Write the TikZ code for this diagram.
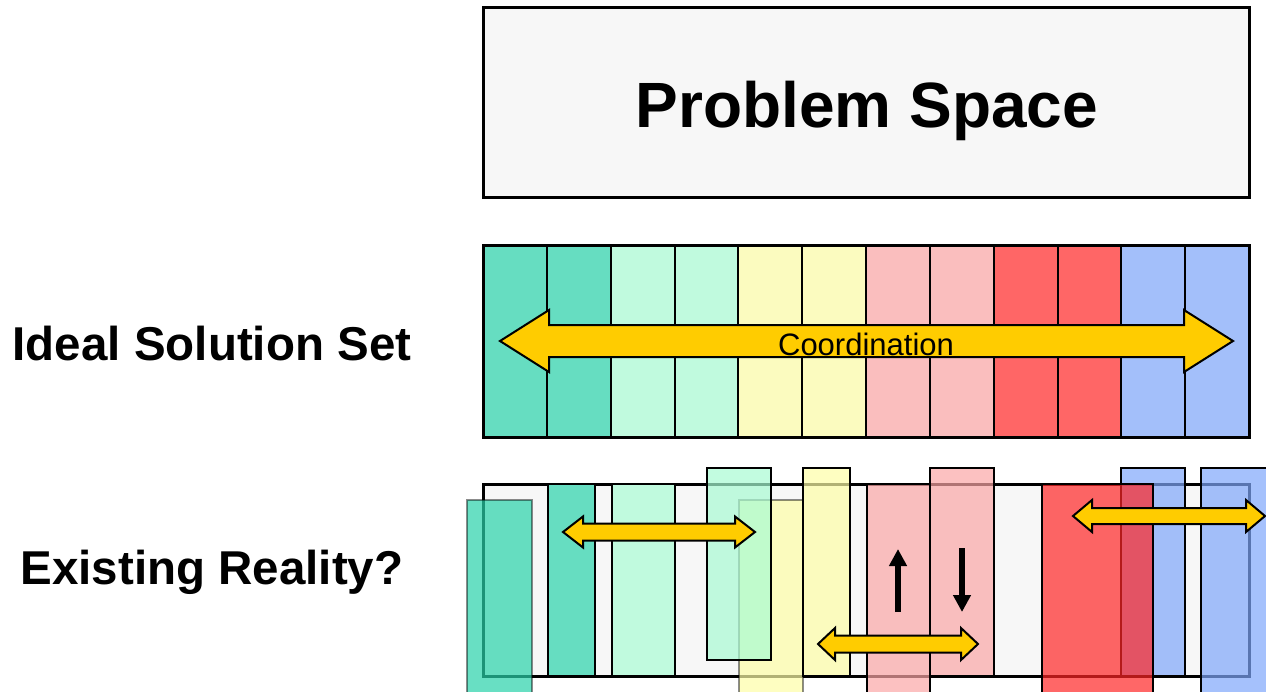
\documentclass[tikz,border=0pt]{standalone}
\usepackage{fontspec}
\setmainfont{Liberation Sans}
\usetikzlibrary{arrows.meta}

% flat colours of the cells
\definecolor{panel}{HTML}{F7F7F7}
\definecolor{cteal}{HTML}{66DDC1}
\definecolor{cmint}{HTML}{C0FADE}
\definecolor{cyel}{HTML}{FBFBBF}
\definecolor{cpink}{HTML}{FABEBE}
\definecolor{cred}{HTML}{FF6666}
\definecolor{cblue}{HTML}{A3BFFA}
\definecolor{gold}{HTML}{FFCC00}
% stronger tints used with opacity for the overlapping bars
\definecolor{tteal}{HTML}{28D2AA}
\definecolor{tmint}{HTML}{A8FBD3}
\definecolor{tyel}{HTML}{FDFDA7}
\definecolor{tpink}{HTML}{FBA6A6}
\definecolor{tred}{HTML}{FF2626}
\definecolor{tblue}{HTML}{7FA7FB}

\tikzset{
  frame/.style={draw=black, line width=3pt, fill=panel},
  cell/.style={draw=black, line width=2pt},
  ghost/.style={draw=black, line width=2pt, fill opacity=0.7},
  faint/.style={ghost, draw opacity=0.45},
  band/.style={draw=black, line width=2pt, fill=gold, line join=miter},
  label/.style={font=\bfseries\fontsize{47.5}{47.5}\selectfont, anchor=base},
  push/.style={line width=6.5pt, -{Triangle[width=17pt,length=17pt]}}
}

% double-headed band: left tip x, right tip x, centre y, shaft half-height, head half-height, head length
\newcommand\bandarrow[6]{%
  \draw[band] (#1,#3) -- (#1+#6,#3-#5) -- (#1+#6,#3-#4) -- (#2-#6,#3-#4)
    -- (#2-#6,#3-#5) -- (#2,#3) -- (#2-#6,#3+#5) -- (#2-#6,#3+#4)
    -- (#1+#6,#3+#4) -- (#1+#6,#3+#5) -- cycle;}

\begin{document}
\begin{tikzpicture}[x=1pt,y=-1pt]
\useasboundingbox (0,0) rectangle (1266,691);
\clip (0,0) rectangle (1266,691);

% problem space
\draw[frame] (483,7) rectangle (1249,197);
\node[anchor=base, font=\bfseries\fontsize{64}{64}\selectfont] (ps) at (867,127) {Problem Space};

% ideal solution set: twelve equal cells
\foreach \i/\c in {0/cteal,1/cteal,2/cmint,3/cmint,4/cyel,5/cyel,
                   6/cpink,7/cpink,8/cred,9/cred,10/cblue,11/cblue}
  \draw[cell, fill=\c] (483+\i*63.833,245) rectangle ++(63.833,192);
\draw[line width=3pt] (483,245) rectangle (1249,437);
\bandarrow{500}{1233}{341}{16}{31}{49}
\node[anchor=base, font=\fontsize{31}{31}\selectfont] (coord) at (866,355) {Coordination};

\node[label] (ideal) at (212,360) {Ideal Solution Set};

% existing reality
\draw[frame] (483,484) rectangle (1249,676);
\draw[cell, fill=cteal] (548,484) rectangle (595,676);
\draw[cell, fill=cmint] (612,484) rectangle (675,676);
\draw[faint, fill=tteal] (467,500) rectangle (532,700);
\draw[faint, fill=tyel]  (739,500) rectangle (803,700);
\draw[ghost, fill=tmint] (707,468) rectangle (771,660);
\draw[ghost, fill=tyel]  (803,468) rectangle (850,676);
\draw[ghost, fill=tpink] (867,484) rectangle (930,700);
\draw[ghost, fill=tpink] (930,468) rectangle (994,676);
\draw[ghost, fill=tblue] (1121,468) rectangle (1185,676);
\draw[ghost, fill=tred]  (1042,484) rectangle (1153,700);
\draw[ghost, fill=tblue] (1201,468) rectangle (1290,700);

\bandarrow{563}{755}{532}{8.5}{15.5}{20}
\bandarrow{818}{978}{644}{8.5}{16}{17}
\bandarrow{1073}{1265}{516}{8}{16}{19}

\coordinate (upfrom) at (898,612);
\coordinate (upto) at (898,549);
\coordinate (dnfrom) at (962,548);
\coordinate (dnto) at (962,612);
\draw[push] (upfrom) -- (upto);
\draw[push] (dnfrom) -- (dnto);

\node[label] (exist) at (212,584) {Existing Reality?};
\end{tikzpicture}
\end{document}
